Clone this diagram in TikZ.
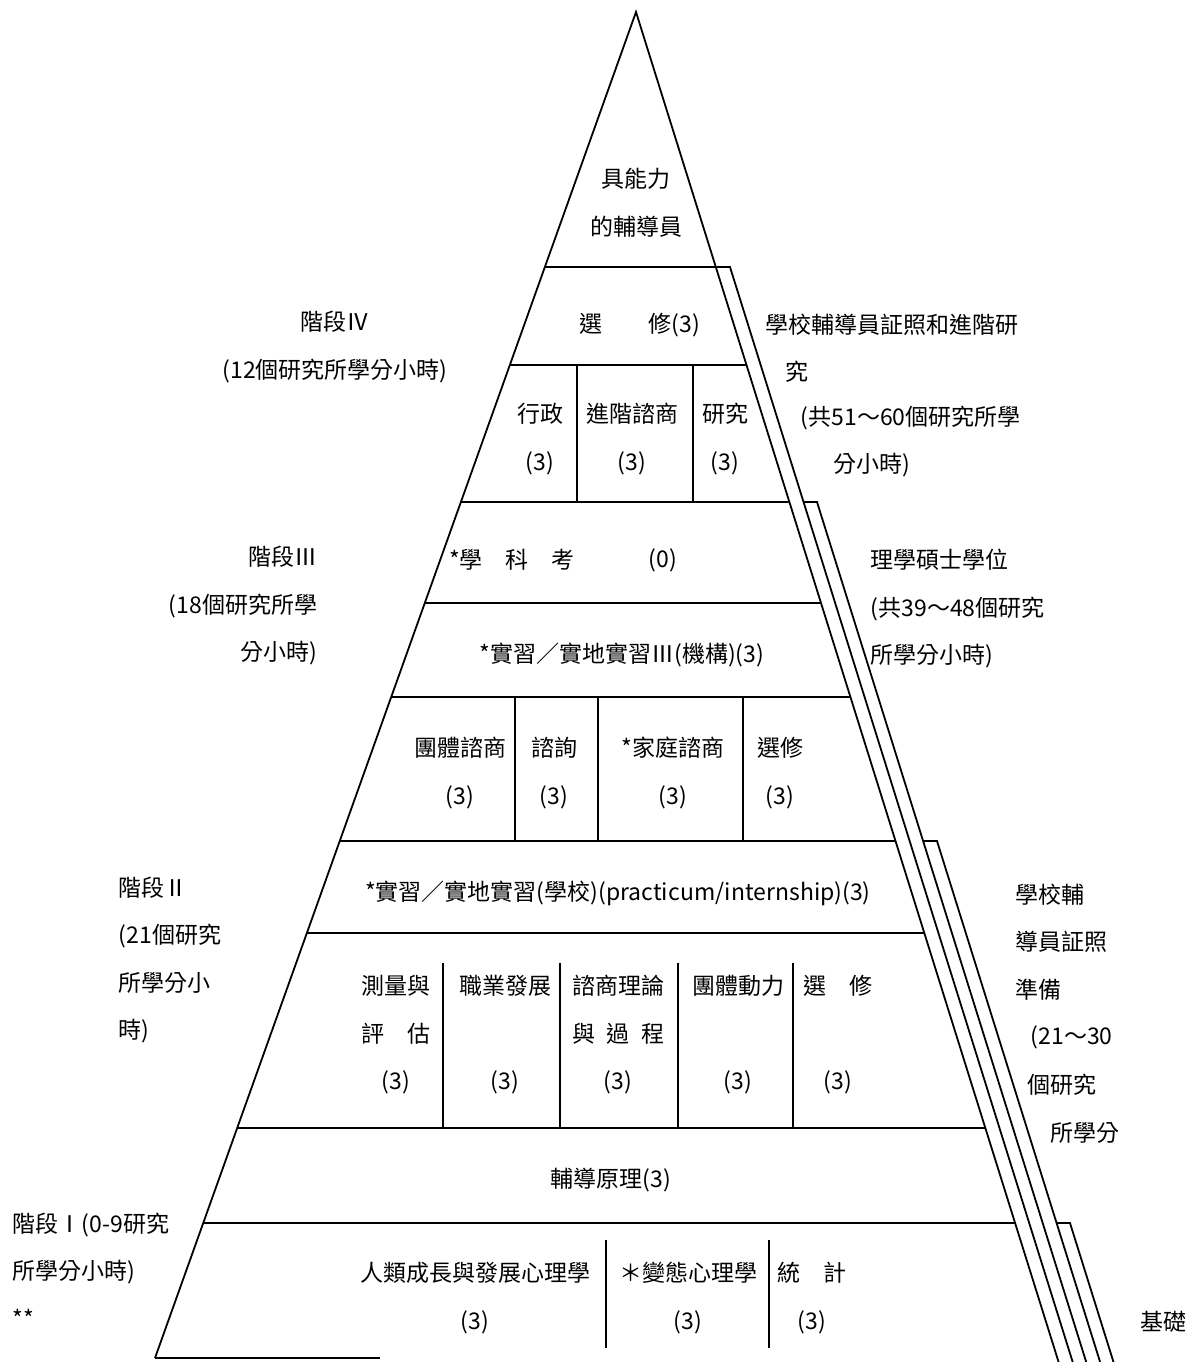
\documentclass[tikz,border=0pt]{standalone}
\usepackage{fontspec}
\setmainfont{Noto Sans CJK TC}
\usepackage{tikz}

\begin{document}
\begin{tikzpicture}[x=0.5pt, y=-0.5pt, line width=0.9pt,
  every node/.style={inner sep=0pt, font=\fontsize{11.5pt}{23.75pt}\selectfont},
  cell/.style={align=center},
  side/.style={anchor=west, align=left}]
\useasboundingbox (0,0) rectangle (1189,1362);

% Pyramid outline
\draw (155,1358) -- (636,12) -- (1058.6,1362);
\draw (155,1358) -- (380,1358);

% Stage tops and side rails
\draw (544.9,267) -- (730,267) -- (1072.7,1362);
\draw (460.9,502) -- (789.4,502);
\draw (803.6,502) -- (817,502) -- (1086.2,1362);
\draw (339.7,841) -- (895.5,841);
\draw (923.1,841) -- (937,841) -- (1100.1,1362);
\draw (203.2,1223) -- (1015,1223);
\draw (1056.6,1223) -- (1070,1223) -- (1113.5,1362);

% Row borders
\draw (509.8,365) -- (746.5,365);
\draw (424.8,603) -- (821,603);
\draw (391.2,697) -- (850.4,697);
\draw (306.8,933) -- (924.3,933);
\draw (237.1,1128) -- (985.3,1128);

% Course dividers
\draw (577,365) -- (577,502) (693,365) -- (693,502);
\draw (515,697) -- (515,841) (598,697) -- (598,841) (743,697) -- (743,841);
\draw (443,963) -- (443,1128) (560,963) -- (560,1128)
      (678,963) -- (678,1128) (793,963) -- (793,1128);
\draw (606,1240) -- (606,1348) (769,1240) -- (769,1348);

% Top
\node[cell] (peak) at (636,203) {具能力\\的輔導員};

% Stage IV
\node[cell] (elect4) at (640,325) {選　　修(3)};
\node[cell] (admin) at (540,439) {行政\\(3)};
\node[cell] (advcoun) at (632,439) {進階諮商\\(3)};
\node[cell] (research) at (725,439) {研究\\(3)};

% Stage III
\node (exam) at (512,560) {*學　科　考};
\node (examcr) at (663,560) {(0)};
\node (intern3) at (622,655) {*實習／實地實習Ⅲ(機構)(3)};
\node[cell] (groupcoun) at (460,773) {團體諮商\\(3)};
\node[cell] (consult) at (554,773) {諮詢\\(3)};
\node[cell] (family) at (673,773) {*家庭諮商\\(3)};
\node[cell] (elect3) at (780,773) {選修\\(3)};

% Stage II
\node (intern2) at (618,893) {*實習／實地實習(學校)(practicum/internship)(3)};
\node[cell] (assess) at (396,1035) {測量與\\評　估\\(3)};
\node[cell] (career) at (505,1035) {職業發展\\[23.75pt](3)};
\node[cell] (theory) at (618,1035) {諮商理論\\與\enspace 過\enspace 程\\(3)};
\node[cell] (groupdyn) at (738,1035) {團體動力\\[23.75pt](3)};
\node[cell] (elect2) at (838,1035) {選　修\\[23.75pt](3)};
\node (principle) at (611,1180) {輔導原理(3)};

% Stage I
\node[cell] (develop) at (475,1298) {人類成長與發展心理學\\(3)};
\node[cell] (abnormal) at (688,1298) {＊變態心理學\\(3)};
\node[cell] (stats) at (812,1298) {統　計\\(3)};

% Stage labels (left)
\node[cell] (stage4) at (335,347) {階段Ⅳ\\(12個研究所學分小時)};
\node[anchor=east, align=right] (stage3) at (318,606) {階段Ⅲ\\(18個研究所學\\分小時)};
\node[side] (stage2) at (118,960) {階段Ⅱ\\(21個研究\\所學分小\\時)};
\node[side] (stage1) at (12,1270) {階段Ⅰ(0-9研究\\所學分小時)\\**};

% Goals (right)
\node[side] (goal4a) at (765,325) {學校輔導員証照和進階研};
\node[side] (goal4b) at (785,372) {究};
\node[side] (goal4c) at (800,418) {(共51～60個研究所學};
\node[side] (goal4d) at (833,465) {分小時)};
\node[side] (goal3) at (870,609) {理學碩士學位\\(共39～48個研究\\所學分小時)};
\node[side] (goal2a) at (1015,942) {學校輔\\導員証照\\準備};
\node[side] (goal2b) at (1030,1037) {(21～30};
\node[side] (goal2c) at (1027,1085) {個研究};
\node[side] (goal2d) at (1050,1133) {所學分};
\node[side] (goal1) at (1140,1322) {基礎};
\end{tikzpicture}
\end{document}
